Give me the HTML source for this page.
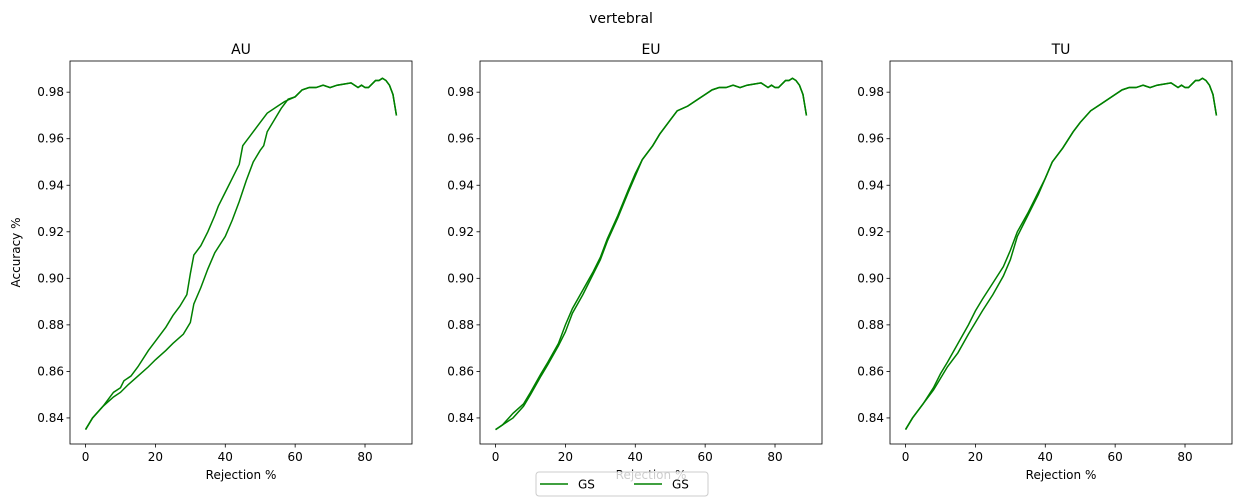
<!DOCTYPE html>
<html><head><meta charset="utf-8"><style>
body{margin:0;background:#fff;}
svg{display:block;font-family:"DejaVu Sans","Liberation Sans",sans-serif;}
</style></head><body>
<svg id="c" width="1242" height="503"></svg>
<script>
const tailX=[62,64,66,68,70,72,76,78,79,80,81,83,84,85,86,87,88,89];
const tailY=[.981,.982,.982,.983,.982,.983,.984,.982,.983,.982,.982,.985,.985,.986,.985,.983,.979,.970];
const auAX=[0,2,5,8,10,11,13,15,18,20,23,25,27,29,30,31,33,35,37,38,40,42,44,45,47,50,52,55,57,60];
const auAY=[.835,.840,.845,.851,.853,.856,.858,.862,.869,.873,.879,.884,.888,.893,.902,.910,.914,.920,.927,.931,.937,.943,.949,.957,.961,.967,.971,.974,.976,.978];
const auBX=[0,2,5,8,10,12,15,18,20,23,25,28,30,31,33,35,37,40,42,44,46,48,50,51,52,54,56,58,60];
const auBY=[.835,.840,.845,.849,.851,.854,.858,.862,.865,.869,.872,.876,.881,.889,.896,.904,.911,.918,.925,.933,.942,.950,.955,.957,.963,.968,.973,.977,.978];
const euAX=[0,2,5,8,10,13,15,18,20,22,25,28,30,32,35,38,40,42,45,47,50,52,55,58,60];
const euAY=[.835,.837,.840,.845,.850,.858,.863,.871,.877,.885,.893,.902,.908,.916,.926,.937,.944,.951,.957,.962,.968,.972,.974,.977,.979];
const euBY=[.835,.837,.842,.846,.851,.859,.864,.872,.880,.887,.895,.903,.909,.917,.927,.938,.945,.951,.957,.962,.968,.972,.974,.977,.979];
const tuAX=[0,2,5,8,10,12,15,18,20,22,25,28,30,32,35,38,40,42,45,48,50,53,56,60];
const tuAY=[.835,.840,.846,.853,.859,.864,.872,.880,.886,.891,.898,.905,.912,.920,.928,.937,.943,.950,.956,.963,.967,.972,.975,.979];
const tuBY=[.835,.840,.846,.852,.857,.862,.868,.876,.881,.886,.893,.901,.908,.918,.927,.936,.943,.950,.956,.963,.967,.972,.975,.979];
const xTicks=[0,20,40,60,80];
const yTicks=[0.84,0.86,0.88,0.90,0.92,0.94,0.96,0.98];
const titles=["AU","EU","TU"];
const panels=[[[auAX,auAY],[auBX,auBY]],[[euAX,euAY],[euAX,euBY]],[[tuAX,tuAY],[tuAX,tuBY]]];
const lefts=[70,480,890];
const W=342,T=61,B=444,xmin=-4.45,xmax=93.45,ymin=0.8288,ymax=0.9934;
const NS="http://www.w3.org/2000/svg",svg=document.getElementById('c');
function mk(t,a,p){const e=document.createElementNS(NS,t);for(const k in a)e.setAttribute(k,a[k]);(p||svg).appendChild(e);return e;}
let t=mk('text',{x:621,y:23,'text-anchor':'middle','font-size':14});t.textContent='vertebral';


panels.forEach((ser,i)=>{
 const L=lefts[i];
 const sx=v=>L+(v-xmin)/(xmax-xmin)*W, sy=v=>B-(v-ymin)/(ymax-ymin)*(B-T);
 const g=mk('g',{});
 
 
 ser.forEach((s,j)=>{
  const xs=s[0].concat(tailX), ys=s[1].concat(tailY);
  const p=mk('polyline',{points:xs.map((x,k)=>sx(x)+','+sy(ys[k])).join(' '),fill:'none',stroke:'#008000','stroke-width':1.5},g);
  
  
 });
 mk('rect',{x:L,y:T,width:W,height:B-T,fill:'none',stroke:'#000','stroke-width':0.8},g);
 xTicks.forEach(v=>{const x=sx(v);mk('line',{x1:x,x2:x,y1:B,y2:B+3.5,stroke:'#000','stroke-width':0.8},g);
  const tt=mk('text',{x:x,y:B+17,'text-anchor':'middle','font-size':12},g);tt.textContent=v;});
 yTicks.forEach(v=>{const y=sy(v);mk('line',{x1:L-3.5,x2:L,y1:y,y2:y,stroke:'#000','stroke-width':0.8},g);
  const tt=mk('text',{x:L-6,y:y+4,'text-anchor':'end','font-size':12},g);tt.textContent=v.toFixed(2);});
 const ti=mk('text',{x:L+W/2,y:T-7,'text-anchor':'middle','font-size':14},g);ti.textContent=titles[i];
 
 
 const xl=mk('text',{x:L+W/2,y:B+35,'text-anchor':'middle','font-size':12},g);xl.textContent='Rejection %';
 
 
 if(i==0){const yl=mk('text',{x:20,y:(T+B)/2,'text-anchor':'middle','font-size':12,transform:'rotate(-90 20 '+(T+B)/2+')'},g);yl.textContent='Accuracy %';
 
 }
});
const lg=mk('g',{});


mk('rect',{x:536,y:472,width:172,height:24,rx:3,fill:'rgba(255,255,255,0.8)',stroke:'#ccc'},lg);
[[540,578],[634,672]].forEach((p,k)=>{mk('line',{x1:p[0],x2:p[0]+28,y1:484,y2:484,stroke:'#008000','stroke-width':1.5},lg);
 const tt=mk('text',{x:p[1],y:488.5,'font-size':12},lg);tt.textContent='GS';
 
 });
</script>
</body></html>
